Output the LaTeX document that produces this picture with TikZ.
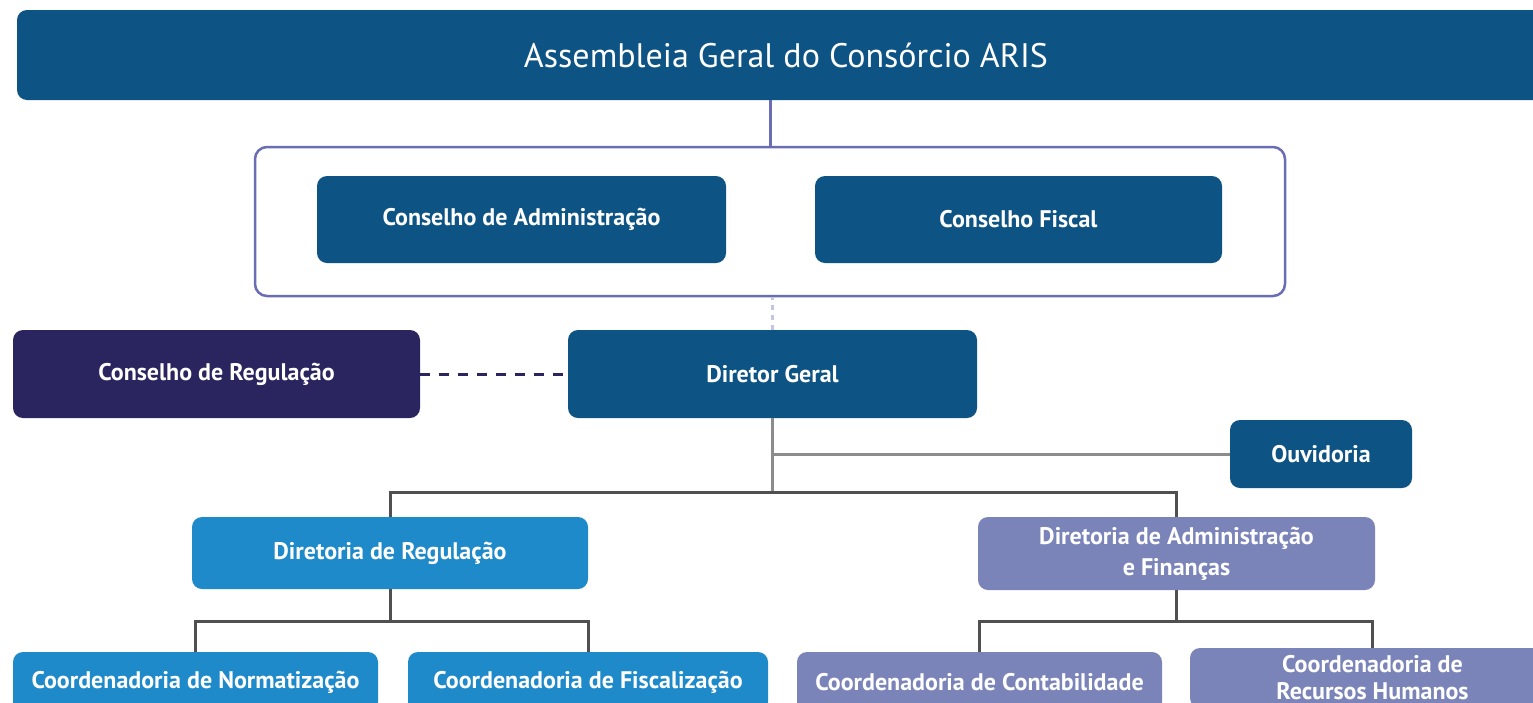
\documentclass[tikz,border=0pt]{standalone}
\usepackage{fontspec}
\setmainfont{PT Sans}
\definecolor{navy}{HTML}{0D5384}
\definecolor{plum}{HTML}{2A255E}
\definecolor{sky}{HTML}{1F8ACA}
\definecolor{lav}{HTML}{7B84B9}
\definecolor{frame}{HTML}{6A6DB4}
\definecolor{lgray}{HTML}{8C8C8C}
\definecolor{dgray}{HTML}{505050}
\begin{document}
\begin{tikzpicture}[x=1pt,y=-1pt,
  box/.style={rectangle,rounded corners=10pt,draw=none,text=white,align=center,
    font=\fontsize{24}{30}\selectfont\bfseries,inner sep=0pt},
  navybox/.style={box,fill=navy},
  plumbox/.style={box,fill=plum},
  skybox/.style={box,fill=sky},
  lavbox/.style={box,fill=lav},
  grayline/.style={draw=lgray,line width=3pt},
  darkline/.style={draw=dgray,line width=3pt},
]
\useasboundingbox (0,0) rectangle (1533,702);
\clip (0,0) rectangle (1533,702);
% nodes
\node[navybox,minimum width=1538pt,minimum height=90pt,font=\fontsize{34}{40}\selectfont] (top) at (786,55) {Assembleia Geral do Consórcio ARIS};
\node[rectangle,rounded corners=12pt,draw=frame,line width=2.5pt,fill=white,minimum width=1030pt,minimum height=149pt] (cont) at (770,221.5) {};
\node[navybox,minimum width=409pt,minimum height=87pt] (ca) at (521.5,219.5) {Conselho de Administração};
\node[navybox,minimum width=407pt,minimum height=87pt] (cf) at (1018.5,219.5) {Conselho Fiscal};
\node[plumbox,minimum width=407pt,minimum height=88pt] (cr) at (216.5,374) {Conselho de Regulação};
\node[navybox,minimum width=409pt,minimum height=88pt] (dg) at (772.5,374) {Diretor Geral};
\node[navybox,minimum width=182pt,minimum height=68pt] (ouv) at (1321,454) {Ouvidoria};
\node[skybox,minimum width=396pt,minimum height=72pt] (dr) at (390,553) {Diretoria de Regulação};
\node[lavbox,minimum width=397pt,minimum height=73pt,font=\fontsize{24}{31}\selectfont\bfseries] (da) at (1176.5,553.5) {Diretoria de Administração\\e Finanças};
\node[skybox,minimum width=365pt,minimum height=60pt] (cn) at (195.5,682) {Coordenadoria de Normatização};
\node[skybox,minimum width=360pt,minimum height=60pt] (cfi) at (588,682) {Coordenadoria de Fiscalização};
\node[lavbox,minimum width=365pt,minimum height=60pt] (cc) at (979.5,682) {Coordenadoria de Contabilidade};
\node[lavbox,minimum width=365pt,minimum height=60pt,font=\fontsize{24}{27}\selectfont\bfseries] (crh) at (1372.5,678) {Coordenadoria de\\Recursos Humanos};
% connectors
\draw[draw=frame,line width=3pt] (cont.north) -- (cont.north |- top.south);
\draw[draw=frame!40,line width=3pt,dash pattern=on 5pt off 5pt] (dg.north) -- (dg.north |- cont.south);
\draw[draw=plum,line width=3pt,dash pattern=on 10pt off 9pt] (cr.east) -- (dg.west);
\path (dg.south) ++(0,74) coordinate (j1);
\draw[grayline] (dg.south) -- (j1);
\draw[grayline] (dg.south |- ouv.west) -- (ouv.west);
\draw[darkline] (dr.north) |- (j1) -| (da.north);
\path (dr.south) ++(0,32) coordinate (j2);
\path (da.south) ++(0,31) coordinate (j3);
\draw[darkline] (dr.south) -- (j2);
\draw[darkline] (cn.north) |- (j2) -| (cfi.north);
\draw[darkline] (da.south) -- (j3);
\draw[darkline] (cc.north) |- (j3) -| (crh.north);
\end{tikzpicture}
\end{document}
